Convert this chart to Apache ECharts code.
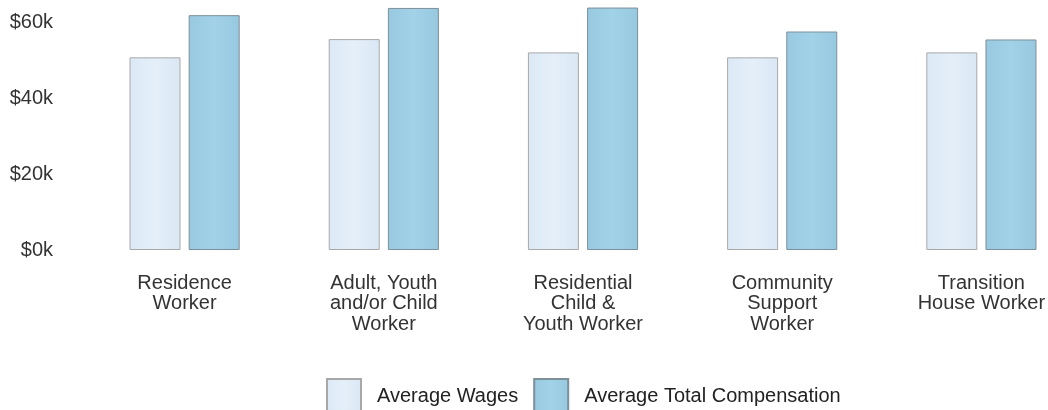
<!DOCTYPE html>
<html>
<head>
<meta charset="utf-8">
<script src="https://cdn.jsdelivr.net/npm/echarts@6/dist/echarts.min.js"></script>
<style>
  html, body { margin: 0; padding: 0; background: #ffffff; overflow: hidden; }
  #chart { width: 1100px; height: 410px; }
</style>
</head>
<body>
<div id="chart"></div>
<script>
// Data
const categories = [
  "Residence\nWorker",
  "Adult, Youth\nand/or Child\nWorker",
  "Residential\nChild &\nYouth Worker",
  "Community\nSupport\nWorker",
  "Transition\nHouse Worker"
];
const seriesNames = ["Average Wages", "Average Total Compensation"];
const averageWages = [50700, 55500, 52000, 50700, 52000];
const averageTotalCompensation = [61800, 63700, 63800, 57500, 55400];
const yTicks = [0, 20000, 40000, 60000];

const chart = echarts.init(document.getElementById('chart'), null, { renderer: 'canvas' });
const font = "'Liberation Sans', Arial, Helvetica, sans-serif";

const option = {
  animation: false,
  backgroundColor: '#ffffff',
  grid: { left: 85, right: 19, top: 3, bottom: 160, containLabel: false },
  legend: {
    left: 326,
    top: 378,
    padding: 0,
    itemWidth: 34,
    itemHeight: 34,
    itemGap: 15,
    icon: 'rect',
    textStyle: { fontFamily: font, fontSize: 20, color: '#222', padding: [0, 0, 0, 11] },
    data: seriesNames
  },
  xAxis: {
    type: 'category',
    data: categories,
    axisLine: { show: false },
    axisTick: { show: false },
    splitLine: { show: false },
    axisLabel: {
      interval: 0,
      margin: 23,
      fontFamily: font,
      fontSize: 20,
      lineHeight: 20.5,
      color: '#333',
      align: 'center'
    }
  },
  yAxis: {
    type: 'value',
    min: 0,
    max: 65000,
    interval: 20000,
    axisLine: { show: false },
    axisTick: { show: false },
    splitLine: { show: false },
    axisLabel: {
      margin: 32,
      fontFamily: font,
      fontSize: 20,
      color: '#333',
      padding: [0, 0, 6, 0],
      formatter: function (v) {
        return yTicks.indexOf(v) >= 0 ? '$' + (v / 1000) + 'k' : '';
      }
    }
  },
  series: [
    {
      name: seriesNames[0],
      type: 'bar',
      data: averageWages,
      barWidth: 51,
      barGap: '16%',
      itemStyle: {
        color: new echarts.graphic.LinearGradient(0, 0, 1, 0, [
          { offset: 0, color: '#dce9f6' },
          { offset: 0.5, color: '#e4eff9' },
          { offset: 1, color: '#dae7f4' }
        ]),
        borderColor: '#a8a8a8',
        borderWidth: 1
      }
    },
    {
      name: seriesNames[1],
      type: 'bar',
      data: averageTotalCompensation,
      barWidth: 51,
      itemStyle: {
        color: new echarts.graphic.LinearGradient(0, 0, 1, 0, [
          { offset: 0, color: '#98c9e0' },
          { offset: 0.5, color: '#a2d2e8' },
          { offset: 1, color: '#96c8df' }
        ]),
        borderColor: '#7d8f99',
        borderWidth: 1
      }
    }
  ]
};
chart.setOption(option);
</script>
</body>
</html>
